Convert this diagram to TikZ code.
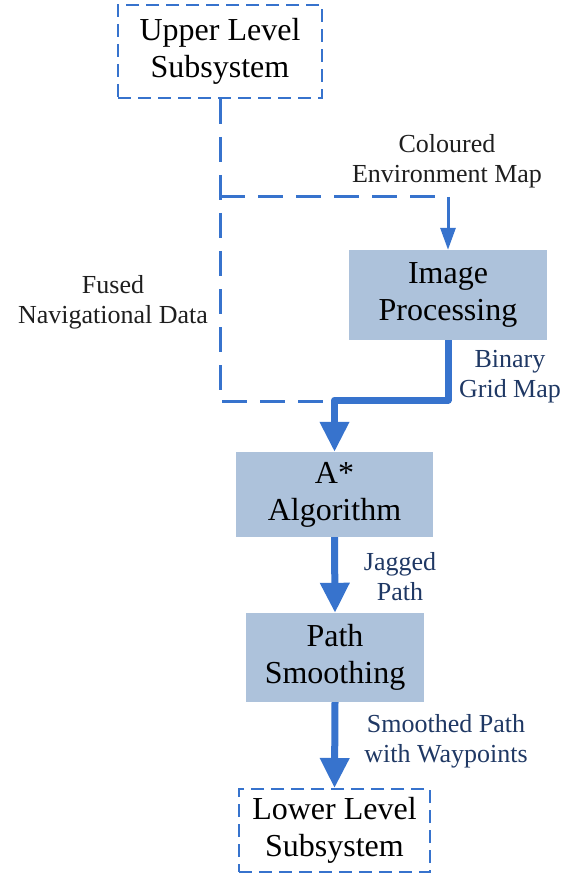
\documentclass[tikz,border=0pt]{standalone}
\usepackage{fontspec}
\setmainfont{Liberation Serif}
\usetikzlibrary{arrows.meta}
\definecolor{flowblue}{RGB}{55,115,205}
\definecolor{boxfill}{RGB}{173,194,219}
\definecolor{labelblue}{RGB}{31,56,100}
\definecolor{labelblack}{RGB}{30,30,30}
\tikzset{
  procbox/.style={rectangle, fill=boxfill, align=center, inner sep=0pt,
    font=\fontsize{32}{37}\selectfont, text=black},
  extbox/.style={rectangle, draw=flowblue, line width=2pt,
    dash pattern=on 13pt off 7pt, align=center, inner sep=0pt,
    font=\fontsize{32}{37}\selectfont, text=black},
  dataflow/.style={draw=flowblue, line width=3pt, dash pattern=on 25pt off 13pt},
  thinflow/.style={draw=flowblue, line width=3pt,
    -{Triangle[width=15pt,length=22pt]}},
  mainflow/.style={draw=flowblue, line width=7pt, line join=round,
    -{Triangle[width=28pt,length=30pt]}},
  bluelabel/.style={align=center, anchor=base, text=labelblue,
    font=\fontsize{26}{30}\selectfont},
  blacklabel/.style={align=center, anchor=base, text=labelblack,
    font=\fontsize{26}{30}\selectfont},
}
\begin{document}
\begin{tikzpicture}[x=1pt,y=-1pt]
\useasboundingbox (0,0) rectangle (564,874);

% external subsystems
\node[extbox, minimum width=204pt, minimum height=93pt] (upper) at (220,51.5)
  {Upper Level\\Subsystem};
\node[extbox, minimum width=191pt, minimum height=83pt] (lower) at (334.5,830.5)
  {Lower Level\\Subsystem};

% processing stages
\node[procbox, minimum width=198pt, minimum height=90pt] (img) at (448,295)
  {Image\\Processing};
\node[procbox, minimum width=197pt, minimum height=85pt] (astar) at (334.5,494.5)
  {A*\\Algorithm};
\node[procbox, minimum width=178pt, minimum height=89pt] (smooth) at (335,657.5)
  {Path\\Smoothing};

% routing points
\coordinate (split) at (220,197);
\coordinate (mapin) at (448,197);
\coordinate (navend) at (220,401);
\coordinate (navjoin) at (335,401);
\coordinate (bend) at (334.5,400);

% data from the upper level
\draw[dataflow] (upper.south) -- (navend) -- (navjoin);
\draw[dataflow] (split) -- (mapin);
\draw[thinflow] (mapin) -- (img.north);

% main planning chain
\draw[mainflow] (img.south) |- (bend) -- (astar.north);
\draw[mainflow] (astar.south) -- (smooth.north);
\draw[mainflow] (smooth.south) -- (lower.north);

% labels (anchored at the baseline of their last line)
\node[blacklabel] (lblmap) at (447,183) {Coloured\\Environment Map};
\node[blacklabel] (lblnav) at (113,323) {Fused\\Navigational Data};
\node[bluelabel] (lblgrid) at (510,397) {Binary\\Grid Map};
\node[bluelabel] (lbljag) at (400,600) {Jagged\\Path};
\node[bluelabel] (lblsmooth) at (446,762) {Smoothed Path\\with Waypoints};
\end{tikzpicture}
\end{document}
